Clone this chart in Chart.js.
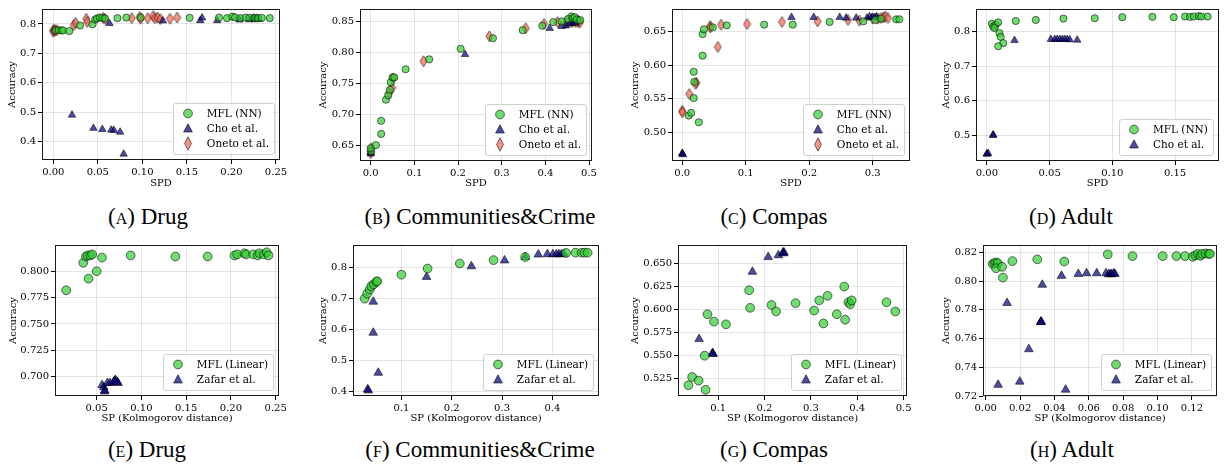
<!DOCTYPE html>
<html>
  <head>
    <title>Accuracy vs fairness</title>
    <script src="https://cdn.jsdelivr.net/npm/chart.js"></script>
    <style>
      html, body { margin: 0; padding: 0; background: #fff; overflow: hidden; }
      body { width: 1224px; height: 464px; position: relative; }
      .panel { position: absolute; }
      .legend {
        position: absolute;
        background: rgba(255, 255, 255, 0.8);
        border: 1px solid #d0d0d0;
        border-radius: 3px;
        padding: 2px 5px 3px 6px;
        font-family: 'DejaVu Serif', serif;
        font-size: 10.5px;
        color: #000;
      }
      .legend .row { height: 15px; line-height: 15px; display: flex; align-items: center; white-space: nowrap; }
      .legend svg { width: 16px; height: 15px; margin-right: 11px; flex: none; }
      .caption {
        position: absolute;
        transform: translateX(-50%);
        font-family: 'Liberation Serif', serif;
        font-size: 23px;
        line-height: 23px;
        white-space: nowrap;
        color: #000;
      }
      .caption .sc { font-variant: small-caps; }
    </style>
  </head>
  <body>
    <script>
      // ---- data: [fairness, accuracy] pairs ----

      // (a) Drug, SPD
      const drugNnMfl = [[0.003,0.778],[0.006,0.779],[0.009,0.778],[0.011,0.778],[0.018,0.776],[0.030,0.795],[0.044,0.799],[0.047,0.815],[0.049,0.819],[0.052,0.822],[0.055,0.821],[0.058,0.819],[0.072,0.820],[0.082,0.822],[0.098,0.822],[0.153,0.821],[0.186,0.822],[0.195,0.820],[0.201,0.825],[0.204,0.823],[0.210,0.820],[0.216,0.822],[0.220,0.821],[0.226,0.820],[0.230,0.820],[0.234,0.821],[0.243,0.820]];
      const drugNnCho = [[0.021,0.490],[0.045,0.445],[0.055,0.441],[0.065,0.439],[0.068,0.438],[0.075,0.432],[0.079,0.357],[0.063,0.802],[0.123,0.811],[0.165,0.812],[0.167,0.821],[0.184,0.812],[0.209,0.814],[0.220,0.815],[0.223,0.818],[0.225,0.821],[0.227,0.817],[0.229,0.820],[0.231,0.816],[0.226,0.815]];
      const drugNnOneto = [[0.000,0.778],[0.000,0.774],[0.001,0.781],[0.002,0.777],[0.004,0.779],[0.023,0.796],[0.025,0.804],[0.037,0.818],[0.038,0.807],[0.056,0.821],[0.058,0.817],[0.088,0.820],[0.097,0.824],[0.098,0.818],[0.106,0.820],[0.112,0.827],[0.114,0.820],[0.117,0.822],[0.120,0.817],[0.131,0.818],[0.139,0.822]];

      // (b) Communities&Crime, SPD
      const crimeNnMfl = [[0.001,0.641],[0.000,0.646],[0.012,0.651],[0.024,0.669],[0.024,0.690],[0.035,0.724],[0.040,0.731],[0.044,0.740],[0.046,0.752],[0.050,0.760],[0.054,0.760],[0.080,0.773],[0.134,0.789],[0.206,0.806],[0.280,0.823],[0.348,0.836],[0.393,0.843],[0.418,0.849],[0.437,0.850],[0.452,0.854],[0.460,0.858],[0.463,0.855],[0.467,0.857],[0.472,0.853],[0.480,0.852]];
      const crimeNnCho = [[0.000,0.637],[0.000,0.639],[0.216,0.797],[0.410,0.839],[0.437,0.842],[0.447,0.843],[0.455,0.846],[0.462,0.847],[0.468,0.848]];
      const crimeNnOneto = [[0.000,0.641],[0.001,0.646],[0.000,0.638],[0.042,0.735],[0.049,0.743],[0.051,0.758],[0.121,0.786],[0.272,0.826],[0.355,0.839],[0.397,0.846],[0.428,0.849],[0.447,0.848],[0.460,0.849],[0.468,0.849],[0.474,0.849],[0.479,0.848],[0.476,0.851]];

      // (c) Compas, SPD
      const compasNnMfl = [[0.010,0.525],[0.014,0.529],[0.018,0.551],[0.019,0.575],[0.018,0.590],[0.026,0.515],[0.032,0.614],[0.032,0.646],[0.034,0.653],[0.048,0.656],[0.070,0.659],[0.129,0.660],[0.174,0.660],[0.232,0.664],[0.285,0.665],[0.304,0.667],[0.313,0.669],[0.337,0.668],[0.342,0.668]];
      const compasNnCho = [[0.000,0.468],[0.000,0.469],[0.001,0.467],[0.172,0.671],[0.207,0.671],[0.248,0.671],[0.258,0.670],[0.274,0.670],[0.291,0.670],[0.295,0.672],[0.299,0.671],[0.303,0.671],[0.306,0.672]];
      const compasNnOneto = [[0.000,0.532],[0.000,0.530],[0.011,0.557],[0.022,0.574],[0.021,0.572],[0.044,0.658],[0.044,0.656],[0.056,0.627],[0.061,0.660],[0.102,0.661],[0.157,0.664],[0.213,0.665],[0.261,0.667],[0.279,0.666],[0.300,0.669],[0.308,0.669],[0.313,0.670],[0.317,0.671],[0.320,0.672],[0.324,0.670]];

      // (d) Adult, SPD
      const adultNnMfl = [[0.004,0.823],[0.005,0.815],[0.007,0.820],[0.006,0.811],[0.009,0.827],[0.010,0.796],[0.011,0.785],[0.013,0.767],[0.009,0.758],[0.023,0.831],[0.039,0.834],[0.061,0.838],[0.086,0.839],[0.108,0.842],[0.132,0.843],[0.149,0.842],[0.158,0.844],[0.162,0.843],[0.165,0.844],[0.169,0.845],[0.171,0.844],[0.176,0.844]];
      const adultNnCho = [[0.000,0.447],[0.000,0.446],[0.001,0.448],[0.005,0.502],[0.005,0.500],[0.022,0.775],[0.051,0.778],[0.054,0.778],[0.056,0.778],[0.058,0.778],[0.060,0.778],[0.062,0.778],[0.064,0.778],[0.066,0.777],[0.072,0.776]];

      // (e) Drug, Kolmogorov
      const drugLinMfl = [[0.016,0.782],[0.035,0.808],[0.038,0.814],[0.040,0.815],[0.043,0.815],[0.045,0.816],[0.041,0.793],[0.050,0.800],[0.056,0.813],[0.088,0.815],[0.138,0.814],[0.174,0.814],[0.204,0.815],[0.207,0.816],[0.215,0.817],[0.217,0.816],[0.225,0.816],[0.230,0.815],[0.232,0.817],[0.237,0.816],[0.240,0.818],[0.242,0.815]];
      const drugLinZafar = [[0.056,0.692],[0.059,0.687],[0.058,0.690],[0.059,0.686],[0.062,0.694],[0.065,0.694],[0.069,0.695],[0.071,0.697],[0.073,0.695],[0.074,0.694],[0.070,0.696]];

      // (f) Communities&Crime, Kolmogorov
      const crimeLinMfl = [[0.027,0.700],[0.032,0.716],[0.037,0.729],[0.040,0.740],[0.045,0.746],[0.050,0.754],[0.052,0.756],[0.100,0.777],[0.152,0.797],[0.216,0.813],[0.283,0.824],[0.346,0.834],[0.427,0.847],[0.446,0.848],[0.458,0.848],[0.464,0.848],[0.470,0.848]];
      const crimeLinZafar = [[0.033,0.408],[0.034,0.404],[0.054,0.461],[0.044,0.590],[0.044,0.690],[0.150,0.770],[0.239,0.804],[0.305,0.823],[0.346,0.834],[0.372,0.842],[0.390,0.843],[0.401,0.843],[0.408,0.843],[0.413,0.843],[0.418,0.843],[0.423,0.844]];

      // (g) Compas, Kolmogorov
      const compasLinMfl = [[0.036,0.518],[0.044,0.527],[0.058,0.523],[0.073,0.513],[0.071,0.550],[0.077,0.595],[0.091,0.587],[0.117,0.584],[0.167,0.621],[0.169,0.602],[0.215,0.605],[0.225,0.598],[0.267,0.607],[0.307,0.599],[0.318,0.610],[0.327,0.585],[0.336,0.615],[0.356,0.595],[0.372,0.625],[0.374,0.589],[0.381,0.608],[0.385,0.606],[0.388,0.610],[0.463,0.608],[0.482,0.598]];
      const compasLinZafar = [[0.059,0.568],[0.088,0.552],[0.088,0.553],[0.089,0.552],[0.174,0.641],[0.208,0.657],[0.230,0.659],[0.240,0.662],[0.242,0.662],[0.241,0.661]];

      // (h) Adult, Kolmogorov
      const adultLinMfl = [[0.004,0.812],[0.005,0.8125],[0.006,0.813],[0.007,0.8125],[0.006,0.809],[0.0095,0.810],[0.010,0.8025],[0.0155,0.814],[0.030,0.8152],[0.0457,0.8137],[0.071,0.8187],[0.0854,0.8175],[0.103,0.8175],[0.111,0.8175],[0.116,0.8175],[0.1205,0.817],[0.122,0.818],[0.1235,0.819],[0.125,0.8177],[0.126,0.819],[0.128,0.8193],[0.1297,0.819],[0.1305,0.819]];
      const adultLinZafar = [[0.0072,0.7278],[0.0198,0.7300],[0.0251,0.7526],[0.0321,0.7717],[0.0323,0.7718],[0.0320,0.7715],[0.0124,0.7848],[0.0329,0.7975],[0.0441,0.8037],[0.0465,0.7244],[0.0539,0.8050],[0.0587,0.8055],[0.0646,0.8055],[0.0700,0.8055],[0.0715,0.8048],[0.0725,0.8050],[0.0733,0.8048],[0.0745,0.8055],[0.0752,0.8050]];

      // tick labels
      const drugNnXTicks = [0, 0.05, 0.10, 0.15, 0.20, 0.25];
      const drugNnYTicks = [0.4, 0.5, 0.6, 0.7, 0.8];
      const crimeNnXTicks = [0, 0.1, 0.2, 0.3, 0.4, 0.5];
      const crimeNnYTicks = [0.65, 0.70, 0.75, 0.80, 0.85];
      const compasNnXTicks = [0, 0.1, 0.2, 0.3];
      const compasNnYTicks = [0.50, 0.55, 0.60, 0.65];
      const adultNnXTicks = [0, 0.05, 0.10, 0.15];
      const adultNnYTicks = [0.5, 0.6, 0.7, 0.8];
      const drugLinXTicks = [0.05, 0.10, 0.15, 0.20, 0.25];
      const drugLinYTicks = [0.700, 0.725, 0.750, 0.775, 0.800];
      const crimeLinXTicks = [0.1, 0.2, 0.3, 0.4];
      const crimeLinYTicks = [0.4, 0.5, 0.6, 0.7, 0.8];
      const compasLinXTicks = [0.1, 0.2, 0.3, 0.4, 0.5];
      const compasLinYTicks = [0.525, 0.550, 0.575, 0.600, 0.625, 0.650];
      const adultLinXTicks = [0, 0.02, 0.04, 0.06, 0.08, 0.10, 0.12];
      const adultLinYTicks = [0.72, 0.74, 0.76, 0.78, 0.80, 0.82];

      // ---- styles ----
      const GREEN = 'rgba(50,205,50,0.7)';
      const NAVY = 'rgba(0,0,128,0.7)';
      const SALMON = 'rgba(250,100,80,0.7)';
      const EDGE = 'rgba(0,0,0,0.7)';
      const FONT = 'DejaVu Serif';

      function thinDiamond(w, h) {
        const c = document.createElement('canvas');
        c.width = w + 2;
        c.height = h + 2;
        const g = c.getContext('2d');
        g.beginPath();
        g.moveTo(c.width / 2, 1);
        g.lineTo(c.width - 1, c.height / 2);
        g.lineTo(c.width / 2, c.height - 1);
        g.lineTo(1, c.height / 2);
        g.closePath();
        g.fillStyle = SALMON;
        g.fill();
        g.strokeStyle = EDGE;
        g.lineWidth = 0.8;
        g.stroke();
        return c;
      }
      const diamondImg = thinDiamond(7, 11);

      const marks = {
        circle: '<svg viewBox="0 0 16 15"><circle cx="8" cy="7.5" r="4.4" fill="' + GREEN + '" stroke="' + EDGE + '" stroke-width="0.8"/></svg>',
        triangle: '<svg viewBox="0 0 16 15"><polygon points="8,2.8 12.4,11 3.6,11" fill="' + NAVY + '" stroke="' + EDGE + '" stroke-width="0.8"/></svg>',
        diamond: '<svg viewBox="0 0 16 15"><polygon points="8,0.8 11.4,7.5 8,14.2 4.6,7.5" fill="' + SALMON + '" stroke="' + EDGE + '" stroke-width="0.8"/></svg>'
      };

      const framePlugin = {
        id: 'frame',
        afterDraw(chart) {
          const { ctx, chartArea: a } = chart;
          ctx.save();
          ctx.strokeStyle = '#1a1a1a';
          ctx.lineWidth = 1;
          ctx.strokeRect(Math.round(a.left) + 0.5, Math.round(a.top) + 0.5,
            Math.round(a.right - a.left) - 1, Math.round(a.bottom - a.top) - 1);
          ctx.restore();
        }
      };

      function pts(arr) {
        return arr.map((p) => ({ x: p[0], y: p[1] }));
      }

      function series(kind, label, arr, big) {
        const ds = { label: label, data: pts(arr), borderColor: EDGE, borderWidth: 0.8 };
        if (kind === 'circle') {
          Object.assign(ds, { pointStyle: 'circle', pointRadius: big ? 4.4 : 3.6, backgroundColor: GREEN });
        } else if (kind === 'triangle') {
          Object.assign(ds, { pointStyle: 'triangle', pointRadius: big ? 5 : 4.3, backgroundColor: NAVY });
        } else {
          Object.assign(ds, { pointStyle: diamondImg, backgroundColor: SALMON });
        }
        ds.kind = kind;
        return ds;
      }

      function axis(min, max, ticks, dec, title, fit) {
        return {
          type: 'linear',
          min: min,
          max: max,
          afterBuildTicks: (s) => { s.ticks = ticks.map((v) => ({ value: v })); },
          afterFit: fit,
          border: { display: false },
          grid: { color: 'rgba(0,0,0,0.1)', lineWidth: 1, tickLength: 4, tickColor: '#000', drawTicks: true },
          ticks: {
            color: '#000',
            font: { family: FONT, size: 10 },
            padding: 2,
            maxRotation: 0,
            autoSkip: false,
            callback: (v) => Number(v).toFixed(dec)
          },
          title: { display: true, text: title, color: '#000', font: { family: FONT, size: 10 }, padding: 0 }
        };
      }

      function makePanel(p) {
        const [L, T, R, B] = p.frame;
        const left = p.yTitleX - 6;
        const top = T - 9;
        const w = R - left + p.rightPad;
        const h = p.xTitleY + 6 - top;

        const wrap = document.createElement('div');
        wrap.className = 'panel';
        wrap.style.left = left + 'px';
        wrap.style.top = top + 'px';
        wrap.style.width = w + 'px';
        wrap.style.height = h + 'px';
        const canvas = document.createElement('canvas');
        canvas.width = w;
        canvas.height = h;
        wrap.appendChild(canvas);
        document.body.appendChild(wrap);

        const chart = new Chart(canvas.getContext('2d'), {
          type: 'scatter',
          data: { datasets: p.datasets },
          options: {
            responsive: false,
            animation: false,
            devicePixelRatio: 1,
            layout: { padding: { left: 0, top: 9, right: p.rightPad, bottom: 0 } },
            plugins: { legend: { display: false }, tooltip: { enabled: false } },
            scales: {
              x: axis(p.x[0], p.x[1], p.xTicks, p.xDec, p.xTitle, (s) => { s.height = p.xTitleY + 6 - B; }),
              y: axis(p.y[0], p.y[1], p.yTicks, p.yDec, 'Accuracy', (s) => { s.width = L - left; })
            }
          },
          plugins: [framePlugin]
        });

        const lg = document.createElement('div');
        lg.className = 'legend';
        lg.innerHTML = p.datasets.map((d) =>
          '<div class="row">' + marks[d.kind] + '<span>' + d.label + '</span></div>').join('');
        lg.style.right = (w - chart.chartArea.right + 5) + 'px';
        lg.style.bottom = (h - chart.chartArea.bottom + 5) + 'px';
        wrap.appendChild(lg);

        const cap = document.createElement('div');
        cap.className = 'caption';
        cap.style.left = p.capX + 'px';
        cap.style.top = p.capY + 'px';
        cap.innerHTML = '(<span class="sc">' + p.letter + '</span>) ' + p.name;
        document.body.appendChild(cap);
      }

      const SPD = 'SPD';
      const KS = 'SP (Kolmogorov distance)';

      const panels = [
        { frame: [42, 9, 280, 160], yTitleX: 12, xTitleY: 183, rightPad: 20,
          x: [-0.0127, 0.2545], y: [0.3366, 0.8511], xTicks: drugNnXTicks, yTicks: drugNnYTicks, xDec: 2, yDec: 1, xTitle: SPD,
          datasets: [series('circle', 'MFL (NN)', drugNnMfl), series('triangle', 'Cho et al.', drugNnCho), series('diamond', 'Oneto et al.', drugNnOneto)],
          capX: 148, capY: 205, letter: 'a', name: 'Drug' },
        { frame: [360, 9, 592, 161], yTitleX: 323, xTitleY: 183, rightPad: 20,
          x: [-0.0245, 0.5068], y: [0.6254, 0.870], xTicks: crimeNnXTicks, yTicks: crimeNnYTicks, xDec: 1, yDec: 2, xTitle: SPD,
          datasets: [series('circle', 'MFL (NN)', crimeNnMfl), series('triangle', 'Cho et al.', crimeNnCho), series('diamond', 'Oneto et al.', crimeNnOneto)],
          capX: 480, capY: 205, letter: 'b', name: 'Communities&amp;Crime' },
        { frame: [672, 9, 910, 161], yTitleX: 635, xTitleY: 183, rightPad: 20,
          x: [-0.0162, 0.3587], y: [0.4575, 0.6833], xTicks: compasNnXTicks, yTicks: compasNnYTicks, xDec: 1, yDec: 2, xTitle: SPD,
          datasets: [series('circle', 'MFL (NN)', compasNnMfl), series('triangle', 'Cho et al.', compasNnCho), series('diamond', 'Oneto et al.', compasNnOneto)],
          capX: 774, capY: 205, letter: 'c', name: 'Compas' },
        { frame: [976, 9, 1221, 161], yTitleX: 946, xTitleY: 183, rightPad: 3,
          x: [-0.0087, 0.185], y: [0.4259, 0.8657], xTicks: adultNnXTicks, yTicks: adultNnYTicks, xDec: 2, yDec: 1, xTitle: SPD,
          datasets: [series('circle', 'MFL (NN)', adultNnMfl), series('triangle', 'Cho et al.', adultNnCho)],
          capX: 1071, capY: 205, letter: 'd', name: 'Adult' },
        { frame: [55, 245, 279, 396], yTitleX: 13, xTitleY: 418, rightPad: 20,
          x: [0.0035, 0.2537], y: [0.6817, 0.8249], xTicks: drugLinXTicks, yTicks: drugLinYTicks, xDec: 2, yDec: 3, xTitle: KS,
          datasets: [series('circle', 'MFL (Linear)', drugLinMfl, true), series('triangle', 'Zafar et al.', drugLinZafar, true)],
          capX: 147, capY: 438, letter: 'e', name: 'Drug' },
        { frame: [353, 245, 599, 396], yTitleX: 323, xTitleY: 418, rightPad: 12,
          x: [0.0038, 0.4926], y: [0.3862, 0.8727], xTicks: crimeLinXTicks, yTicks: crimeLinYTicks, xDec: 1, yDec: 1, xTitle: KS,
          datasets: [series('circle', 'MFL (Linear)', crimeLinMfl, true), series('triangle', 'Zafar et al.', crimeLinZafar, true)],
          capX: 480, capY: 438, letter: 'f', name: 'Communities&amp;Crime' },
        { frame: [678, 245, 907, 396], yTitleX: 635, xTitleY: 418, rightPad: 20,
          x: [0.0135, 0.5073], y: [0.5063, 0.6701], xTicks: compasLinXTicks, yTicks: compasLinYTicks, xDec: 1, yDec: 3, xTitle: KS,
          datasets: [series('circle', 'MFL (Linear)', compasLinMfl, true), series('triangle', 'Zafar et al.', compasLinZafar, true)],
          capX: 774, capY: 438, letter: 'g', name: 'Compas' },
        { frame: [983, 245, 1217, 396], yTitleX: 946, xTitleY: 418, rightPad: 7,
          x: [-0.0016, 0.1346], y: [0.72, 0.8252], xTicks: adultLinXTicks, yTicks: adultLinYTicks, xDec: 2, yDec: 2, xTitle: KS,
          datasets: [series('circle', 'MFL (Linear)', adultLinMfl, true), series('triangle', 'Zafar et al.', adultLinZafar, true)],
          capX: 1072, capY: 438, letter: 'h', name: 'Adult' }
      ];

      panels.forEach(makePanel);
    </script>
  </body>
</html>
